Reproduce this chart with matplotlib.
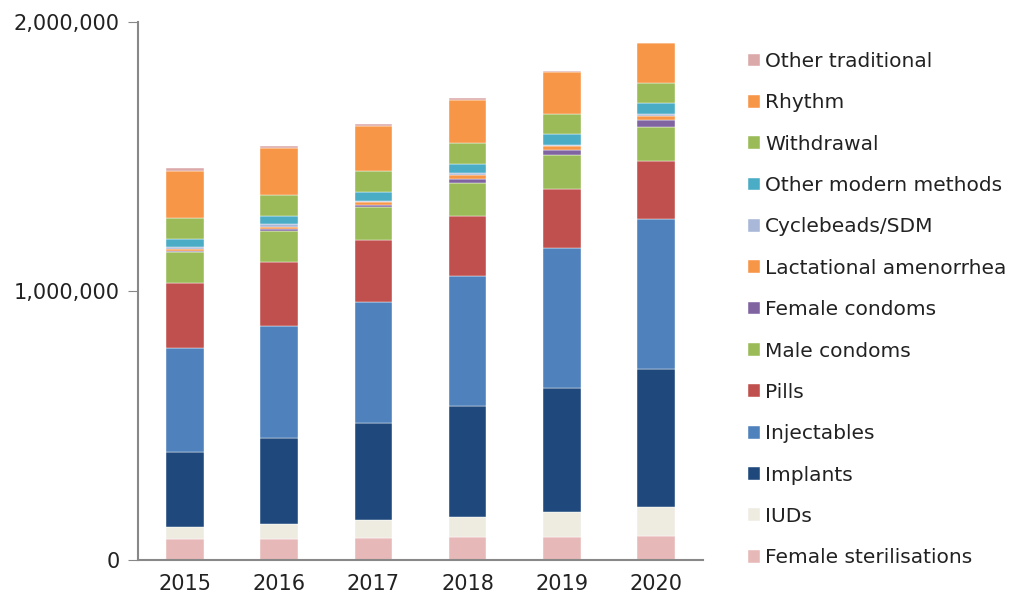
import matplotlib.pyplot as plt
import numpy as np

# years on the x axis
years = ["2015", "2016", "2017", "2018", "2019", "2020"]

# users by method
female_sterilisations = [79000, 79000, 83000, 84000, 86000, 89000]
iuds = [42000, 55000, 64000, 77000, 91000, 108000]
implants = [281000, 320000, 362000, 412000, 463000, 513000]
injectables = [386000, 416000, 449000, 481000, 518000, 559000]
pills = [241000, 238000, 232000, 226000, 221000, 214000]
male_condoms = [116000, 116000, 121000, 123000, 126000, 128000]
female_condoms = [3000, 6000, 9000, 15000, 18000, 23000]
lactational = [8000, 9000, 10000, 12000, 16000, 18000]
cyclebeads = [8000, 9000, 6000, 7000, 5000, 5000]
other_modern = [31000, 32000, 33000, 36000, 40000, 41000]
withdrawal = [78000, 78000, 78000, 77000, 74000, 74000]
rhythm = [174000, 172000, 165000, 160000, 156000, 149000]
other_traditional = [11000, 10000, 10000, 6000, 5000, 2000]

series = [
    ("Female sterilisations", female_sterilisations, "#E6B9B8"),
    ("IUDs", iuds, "#EEECE1"),
    ("Implants", implants, "#1F497D"),
    ("Injectables", injectables, "#4F81BD"),
    ("Pills", pills, "#C0504D"),
    ("Male condoms", male_condoms, "#9BBB59"),
    ("Female condoms", female_condoms, "#8064A2"),
    ("Lactational amenorrhea", lactational, "#F79646"),
    ("Cyclebeads/SDM", cyclebeads, "#A9B8D8"),
    ("Other modern methods", other_modern, "#4BACC6"),
    ("Withdrawal", withdrawal, "#9BBB59"),
    ("Rhythm", rhythm, "#F79646"),
    ("Other traditional", other_traditional, "#DBA9A9"),
]

plt.rcParams['font.family'] = ['DejaVu Sans']
fig = plt.figure(figsize=(10.14, 6.06), dpi=100)
ax = fig.add_axes([138/1014, 46/606, 565/1014, 538/606])

x = np.arange(len(years))
bottom = np.zeros(len(years))
handles = []
for name, vals, col in series:
    b = ax.bar(x, vals, width=0.4, bottom=bottom, color=col, label=name,
               edgecolor="white", linewidth=0.3)
    handles.append(b)
    bottom += np.array(vals)

ax.set_xlim(-0.5, len(years) - 0.5)
ax.set_ylim(0, 2000000)
ax.set_yticks([0, 1000000, 2000000])
ax.set_yticklabels(["0", "1,000,000", "2,000,000"])
ax.set_xticks(x)
ax.set_xticklabels(years)
ax.tick_params(axis="y", length=7, color="#888888", labelsize=15, labelcolor="#222222", pad=6)
ax.tick_params(axis="x", length=0, labelsize=15, labelcolor="#222222", pad=10)
for s in ["top", "right"]:
    ax.spines[s].set_visible(False)
for s in ["left", "bottom"]:
    ax.spines[s].set_color("#888888")
    ax.spines[s].set_linewidth(1.5)

leg = fig.legend(handles[::-1], [s[0] for s in series][::-1],
                 loc="upper left", bbox_to_anchor=(740/1014, 1 - 44/606),
                 frameon=False, fontsize=14.5, handlelength=0.6, handleheight=0.6,
                 handletextpad=0.25, labelspacing=1.11, borderaxespad=0)
for t in leg.get_texts():
    t.set_color("#222222")

plt.savefig("out.png", dpi=100)
